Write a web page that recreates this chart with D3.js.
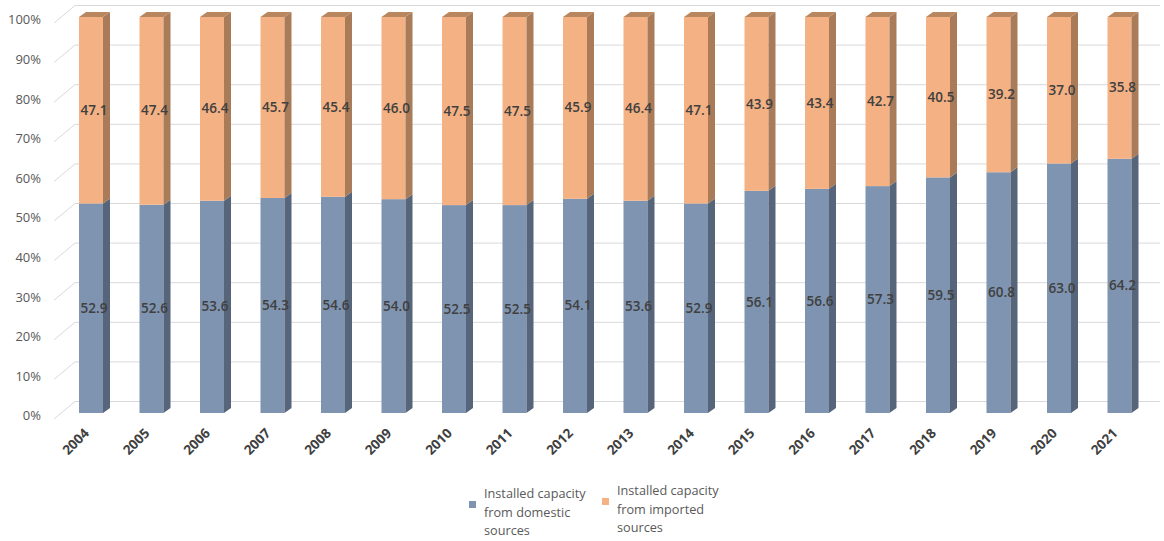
<!DOCTYPE html>
<html>
<head>
<meta charset="utf-8">
<script src="https://cdn.jsdelivr.net/npm/d3@7"></script>
<style>
  html, body { margin: 0; padding: 0; background: #ffffff; }
  svg { display: block; }
</style>
</head>
<body>
<svg id="chart" width="1164" height="541"></svg>
<script>
// Share of installed capacity by source, 2004–2021 (%)
const years = ["2004","2005","2006","2007","2008","2009","2010","2011","2012",
               "2013","2014","2015","2016","2017","2018","2019","2020","2021"];
const domestic = [52.9,52.6,53.6,54.3,54.6,54.0,52.5,52.5,54.1,53.6,52.9,56.1,56.6,57.3,59.5,60.8,63.0,64.2];
const imported = [47.1,47.4,46.4,45.7,45.4,46.0,47.5,47.5,45.9,46.4,47.1,43.9,43.4,42.7,40.5,39.2,37.0,35.8];
const yTicks = [0,10,20,30,40,50,60,70,80,90,100];
const seriesNames = [
  ["Installed capacity", "from domestic", "sources"],
  ["Installed capacity", "from imported", "sources"]
];

const svg = d3.select("#chart");
const font = "'Open Sans', 'Segoe UI', sans-serif";

// front plane scales
const x = d3.scaleBand().domain(years).range([60.75, 1149.75]).paddingInner(0.6033).paddingOuter(0.3017);
const y = d3.scaleLinear().domain([0, 100]).range([413, 17]);
// back wall offset and bar depth
const wallDx = 22, wallDy = -11.5;
const depthDx = 7, depthDy = -5;

const colors = {
  domestic: { front: "#7F94B0", side: "#566579", top: "#6A7C95" },
  imported: { front: "#F4B183", side: "#A97B59", top: "#B8875F" }
};

// gridlines on the back wall with the diagonal floor-edge stubs
const grid = svg.append("g");
yTicks.forEach(t => {
  const yb = y(t) + wallDy;
  grid.append("line")
    .attr("x1", 54).attr("y1", y(t) + 6)
    .attr("x2", 75).attr("y2", yb)
    .attr("stroke", "#d9d9d9").attr("stroke-width", 1);
  grid.append("line")
    .attr("x1", 75).attr("y1", yb)
    .attr("x2", 1160).attr("y2", yb)
    .attr("stroke", "#d9d9d9").attr("stroke-width", 1);
});

// y axis labels
svg.append("g").selectAll("text").data(yTicks).join("text")
  .attr("x", 41).attr("y", d => y(d) + 4)
  .attr("text-anchor", "end").attr("dominant-baseline", "middle")
  .attr("font-family", font).attr("font-size", 13).attr("fill", "#595959")
  .text(d => d + "%");

// stacked 3D bars
const stackData = years.map((yr, i) => ({ year: yr, domestic: domestic[i], imported: imported[i] }));
const stacked = d3.stack().keys(["domestic", "imported"])(stackData);

const bars = svg.append("g");
const w = x.bandwidth();
stacked.forEach(layer => {
  const c = colors[layer.key];
  layer.forEach(seg => {
    const x0 = x(seg.data.year);
    const yb = y(seg[0]), yt = y(seg[1]);
    // front face
    bars.append("rect")
      .attr("x", x0).attr("y", yt).attr("width", w).attr("height", yb - yt)
      .attr("fill", c.front);
    // side face
    bars.append("path")
      .attr("d", `M${x0 + w},${yb} L${x0 + w + depthDx},${yb + depthDy} L${x0 + w + depthDx},${yt + depthDy} L${x0 + w},${yt} Z`)
      .attr("fill", c.side);
    // top face on the uppermost segment
    if (layer.key === "imported") {
      bars.append("path")
        .attr("d", `M${x0},${yt} L${x0 + depthDx},${yt + depthDy} L${x0 + w + depthDx},${yt + depthDy} L${x0 + w},${yt} Z`)
        .attr("fill", c.top);
    }
  });
});

// value labels centred in each segment
const labels = svg.append("g");
stacked.forEach(layer => {
  labels.selectAll(null).data(layer).join("text")
    .attr("x", d => x(d.data.year) + w / 2 + 3)
    .attr("y", d => y((d[0] + d[1]) / 2) + 1)
    .attr("text-anchor", "middle").attr("dominant-baseline", "middle")
    .attr("font-family", font).attr("font-size", 13.5).attr("font-weight", 600)
    .attr("fill", "#404040")
    .text(d => (d[1] - d[0]).toFixed(1));
});

// year labels, rotated
svg.append("g").selectAll("text").data(years).join("text")
  .attr("transform", d => `translate(${x(d) + w / 2 - 1},${434}) rotate(-45)`)
  .attr("text-anchor", "end")
  .attr("font-family", font).attr("font-size", 13.5).attr("font-weight", 700)
  .attr("fill", "#404040")
  .text(d => d);

// legend
const legend = svg.append("g");
const legendItems = [
  { names: seriesNames[0], color: colors.domestic.front, sx: 469, sy: 501, tx: 484, ty: 495 },
  { names: seriesNames[1], color: colors.imported.front, sx: 602, sy: 498, tx: 617, ty: 492 }
];
legendItems.forEach(item => {
  legend.append("rect")
    .attr("x", item.sx).attr("y", item.sy).attr("width", 7).attr("height", 7)
    .attr("fill", item.color);
  item.names.forEach((line, j) => {
    legend.append("text")
      .attr("x", item.tx).attr("y", item.ty + j * 18.5)
      .attr("dominant-baseline", "middle")
      .attr("font-family", font).attr("font-size", 12.7).attr("fill", "#595959")
      .text(line);
  });
});
</script>
</body>
</html>
